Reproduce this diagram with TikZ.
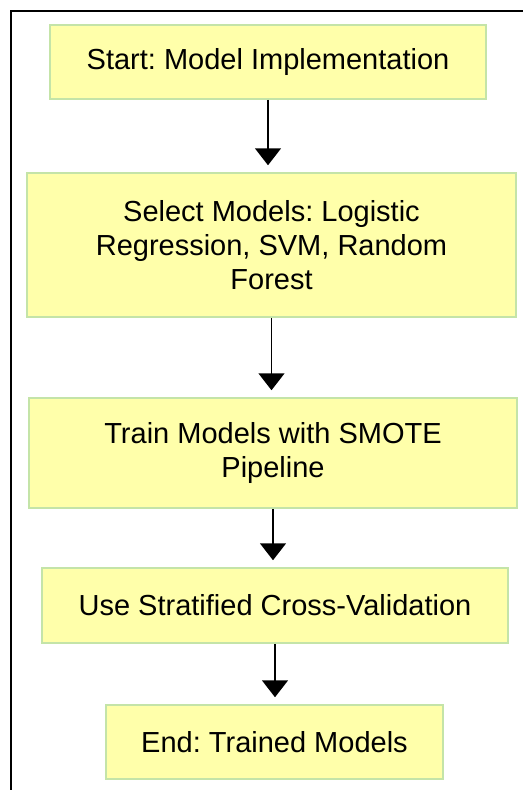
\documentclass[tikz,border=0pt]{standalone}
\usepackage{fontspec}
\setmainfont{Liberation Sans}
\usepackage{tikz}
\usetikzlibrary{arrows.meta}
\frenchspacing

\tikzset{
  stepbox/.style={draw={rgb,255:red,196;green,228;blue,168}, line width=1.5,
    fill={rgb,255:red,255;green,255;blue,170}, align=center, inner sep=0pt,
    font=\fontsize{29}{34}\selectfont},
  flowarrow/.style={line width=1.6, -{Triangle[width=26pt,length=17pt]}, shorten >=7pt}
}

\begin{document}
\begin{tikzpicture}[x=1pt,y=1pt,yscale=-1,xscale=1]
\path[use as bounding box] (0,0) rectangle (523,790);

%Frame lines
\draw [line width=1.5] (11,790) -- (11,11) -- (523,11);

%Boxes
\node [stepbox, minimum width=436, minimum height=74] (start) at (268,62) {Start: Model Implementation};
\node [stepbox, minimum width=489, minimum height=144] (select) at (271.5,245) {Select Models: Logistic\\Regression, SVM, Random\\Forest};
\node [stepbox, minimum width=488, minimum height=110] (train) at (273,453) {Train Models with SMOTE\\Pipeline};
\node [stepbox, minimum width=466, minimum height=75] (cv) at (275,605.5) {Use Stratified Cross-Validation};
\node [stepbox, minimum width=337, minimum height=74] (end) at (274.5,742) {End: Trained Models};

%Arrows
\draw [flowarrow] (start.south) -- (start.south |- select.north);
\draw [flowarrow] (select.south) -- (select.south |- train.north);
\draw [flowarrow] (train.south) -- (train.south |- cv.north);
\draw [flowarrow] (cv.south) -- (cv.south |- end.north);
\end{tikzpicture}
\end{document}
